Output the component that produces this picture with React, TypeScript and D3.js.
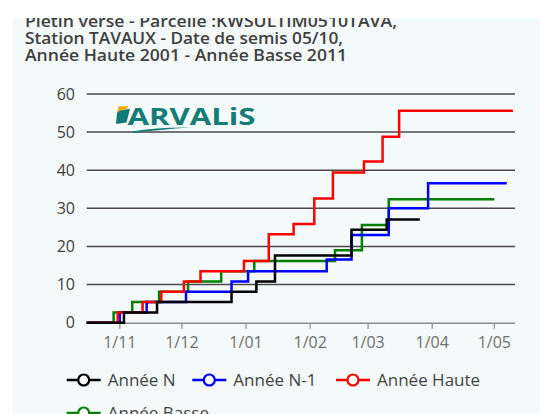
import React from 'react';
import * as d3 from 'd3';

const titleLines = [
  'Piétin versé - Parcelle :KWSULTIM0510TAVA,',
  'Station TAVAUX - Date de semis 05/10,',
  'Année Haute 2001 - Année Basse 2011',
];
const titleWidths = [372, 318, 322];

const seriesNames = ['Année N', 'Année N-1', 'Année Haute', 'Année Basse'];
const seriesColors = ['#000000', '#0000ff', '#ff0000', '#008000'];

const anneeNDates = ['2022-10-16', '2022-11-03', '2022-11-19', '2022-12-25', '2023-01-06', '2023-01-15', '2023-02-21', '2023-03-10', '2023-03-26'];
const anneeNValues = [0, 2.7, 5.4, 8.1, 10.8, 17.6, 24.4, 27.1, 27.1];

const anneeN1Dates = ['2022-10-16', '2022-11-01', '2022-11-14', '2022-12-03', '2022-12-25', '2023-01-02', '2023-02-09', '2023-02-21', '2023-03-11', '2023-03-30', '2023-05-07'];
const anneeN1Values = [0, 2.7, 5.4, 8.1, 10.8, 13.5, 16.6, 23.0, 30.0, 36.6, 36.6];

const anneeHauteDates = ['2022-10-16', '2022-10-31', '2022-11-12', '2022-11-21', '2022-12-02', '2022-12-10', '2022-12-31', '2023-01-12', '2023-01-24', '2023-02-03', '2023-02-12', '2023-02-27', '2023-03-08', '2023-03-16', '2023-05-10'];
const anneeHauteValues = [0, 2.7, 5.4, 8.1, 10.8, 13.5, 16.2, 23.2, 25.9, 32.6, 39.4, 42.3, 48.8, 55.6, 55.6];

const anneeBasseDates = ['2022-10-16', '2022-10-29', '2022-11-07', '2022-11-20', '2022-12-04', '2022-12-20', '2023-01-05', '2023-02-13', '2023-02-26', '2023-03-11', '2023-05-01'];
const anneeBasseValues = [0, 2.7, 5.4, 8.1, 10.8, 13.5, 16.2, 19.0, 25.6, 32.4, 32.4];

const yTicks = [0, 10, 20, 30, 40, 50, 60];
const xTickDates = ['2022-11-01', '2022-12-01', '2023-01-01', '2023-02-01', '2023-03-01', '2023-04-01', '2023-05-01'];
const xTickLabels = ['1/11', '1/12', '1/01', '1/02', '1/03', '1/04', '1/05'];

const parse = d3.timeParse('%Y-%m-%d');

export default function App() {
  const W = 540;
  const H = 414;
  const left = 86.7;
  const right = 515;
  const top = 94;
  const bottom = 322.7;

  const x = d3.scaleTime()
    .domain([parse('2022-10-16') as Date, parse('2023-05-11') as Date])
    .range([left, right]);
  const y = d3.scaleLinear().domain([0, 60]).range([bottom, top]);

  const allDates = [anneeNDates, anneeN1Dates, anneeHauteDates, anneeBasseDates];
  const allValues = [anneeNValues, anneeN1Values, anneeHauteValues, anneeBasseValues];

  const line = d3.line<[Date, number]>()
    .x((d) => x(d[0]))
    .y((d) => y(d[1]))
    .curve(d3.curveStepAfter);

  const font = "'Segoe UI', 'Open Sans', sans-serif";
  const drawOrder = [3, 1, 2, 0];

  const legendX = [66.7, 192.3, 336, 66.7];
  const legendY = [380, 380, 380, 413];

  return (
    <svg width={W} height={H} style={{ position: 'absolute', left: 0, top: 0 }} fontFamily={font}>
      <rect x={0} y={0} width={W} height={H} fill="#ffffff" />
      <rect x={13} y={18} width={W - 13} height={H - 18} fill="#f4f9f9" />

      {titleLines.map((t, i) => (
        <text key={i} x={25} y={26.5 + i * 17.3} fontSize={16} fontWeight={600} fill="#404040"
          textLength={titleWidths[i]} lengthAdjust="spacingAndGlyphs">{t}</text>
      ))}
      <rect x={0} y={0} width={W} height={18} fill="#ffffff" />

      {/* gridlines */}
      {yTicks.filter((v) => v > 0).map((v) => (
        <line key={v} x1={left} x2={right} y1={y(v)} y2={y(v)} stroke="#4a4a4a" strokeWidth={1.5} />
      ))}
      {yTicks.map((v) => (
        <text key={'yl' + v} x={75} y={y(v)} dy="0.35em" textAnchor="end" fontSize={16} fill="#404040">{v}</text>
      ))}

      {/* x axis */}
      <line x1={left} x2={right} y1={bottom + 0.5} y2={bottom + 0.5} stroke="#8c8c8c" strokeWidth={1.5} />
      {xTickDates.map((d, i) => {
        const xx = x(parse(d) as Date);
        return (
          <g key={d}>
            <line x1={xx} x2={xx} y1={bottom + 0.5} y2={bottom + 6} stroke="#8c8c8c" strokeWidth={1.2} />
            <text x={xx} y={348} textAnchor="middle" fontSize={16} fill="#707070">{xTickLabels[i]}</text>
          </g>
        );
      })}

      {/* logo */}
      <g>
        <path d="M118.5,106.5 L128.5,106 L126.5,109 L120,110.5 L116.8,113.5 Z" fill="#f2a900" />
        <path d="M120,110.5 L130,108.8 L126.5,122.5 L116,124 L117,113 Z" fill="#127a76" />
        <text x={127.5} y={124.5} fontSize={23} fontWeight={700} fill="#167c78" textLength={128} lengthAdjust="spacingAndGlyphs">ARVALiS</text>
        <path d="M132,131.5 Q158,127 190,127.5 Q160,129.5 133,133 Z" fill="#167c78" />
      </g>

      {/* lines */}
      {drawOrder.map((si) => {
        const pts: [Date, number][] = allDates[si].map((d, j) => [parse(d) as Date, allValues[si][j]]);
        return (
          <path key={si} d={line(pts) || ''} fill="none" stroke={seriesColors[si]} strokeWidth={2.5} strokeLinejoin="miter" />
        );
      })}

      {/* legend */}
      {seriesNames.map((n, i) => (
        <g key={n} transform={`translate(${legendX[i]},${legendY[i]})`}>
          <line x1={0} x2={34} y1={0} y2={0} stroke={seriesColors[i]} strokeWidth={2.5} />
          <circle cx={17} cy={0} r={5.5} fill="#ffffff" stroke={seriesColors[i]} strokeWidth={2.2} />
          <text x={41} y={0} dy="0.35em" fontSize={17} fill="#444444">{n}</text>
        </g>
      ))}
    </svg>
  );
}
